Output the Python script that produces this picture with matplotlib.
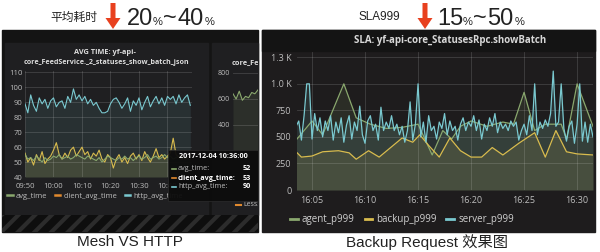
import matplotlib
matplotlib.use('Agg')
import matplotlib.pyplot as plt
import matplotlib.dates as mdates
from matplotlib.patches import Rectangle, FancyArrow
from matplotlib.lines import Line2D
from matplotlib.ticker import FuncFormatter
import pandas as pd
import math

# ---- data: Mesh VS HTTP (per minute from 09:50) ----
http_avg_time = [89, 83, 95, 88, 84, 93, 89, 92, 86, 91,
                 93, 87, 90, 91, 86, 94, 90, 99, 92, 95,
                 91, 94, 89, 92, 88, 90, 86, 83, 83, 84,
                 89, 92, 93, 90, 86, 89, 93, 84, 91, 88,
                 93, 85, 90, 94, 87, 91, 94, 89, 93, 88,
                 94, 92, 94, 89, 95, 90, 93, 95, 88]
avg_time = [55, 52, 53, 51, 54, 52, 50, 53, 51, 52,
            54, 53, 55, 52, 53, 54, 52, 53, 55, 54,
            53, 52, 54, 53, 52, 51, 53, 50, 52, 54,
            53, 52, 51, 53, 52, 54, 52, 53, 51, 53,
            54, 52, 53, 55, 52, 53, 54, 52, 53, 55,
            53, 54, 52, 53, 54, 52, 53, 54, 53]
client_avg_time = [56, 50, 53, 48, 55, 51, 57, 49, 52, 54,
                   58, 63, 55, 52, 56, 53, 58, 60, 54, 57,
                   60, 55, 57, 52, 56, 54, 58, 52, 50, 55,
                   53, 46, 52, 55, 50, 53, 49, 54, 56, 52,
                   55, 51, 57, 53, 50, 54, 59, 53, 55, 52,
                   54, 56, 66, 55, 53, 55, 52, 54, 53]
less50 = [640, 600, 660, 590, 620, 610, 650, 640, 670]

# ---- data: Backup Request (server every 15 s from 16:03:30) ----
server_p999 = [600, 650, 470, 700, 1000, 1000, 480, 720,
               560, 680, 500, 650, 560, 700, 470, 640,
               540, 680, 450, 610, 700, 480, 640, 560,
               790, 520, 440, 650, 700, 560, 620, 470,
               780, 560, 640, 580, 700, 560, 620, 520,
               600, 450, 560, 830, 470, 620, 1000, 500,
               640, 450, 700, 560, 600, 480, 640, 580,
               720, 520, 650, 560, 600, 470, 620, 680,
               560, 640, 600, 700, 560, 660, 480, 620,
               560, 680, 600, 720, 540, 640, 580, 620,
               560, 650, 600, 640, 470, 560, 620, 520,
               700, 560, 1000, 520, 640, 580, 660, 600,
               720, 1120, 600, 640, 1000, 580, 460, 600,
               650, 440, 620, 1000, 460, 640, 450, 620,
               500]
agent_time = ['16:03:30', '16:05:00', '16:06:00', '16:08:00', '16:09:10', '16:10:30',
              '16:12:00', '16:13:30', '16:15:00', '16:16:20', '16:17:20', '16:18:10',
              '16:19:00', '16:20:00', '16:21:30', '16:23:00', '16:24:00', '16:25:00',
              '16:26:00', '16:27:00', '16:28:30', '16:29:00', '16:30:00', '16:31:30']
agent_p999 = [470, 650, 520, 1000, 680, 620, 580, 590, 620, 330, 560, 480,
              600, 650, 600, 640, 620, 920, 560, 620, 620, 480, 1000, 600]
backup_time = ['16:03:30', '16:04:00', '16:05:00', '16:06:00', '16:07:30', '16:08:30',
               '16:09:10', '16:10:20', '16:11:20', '16:13:30', '16:14:30', '16:15:10',
               '16:16:00', '16:17:00', '16:18:00', '16:19:00', '16:20:00', '16:21:00',
               '16:22:00', '16:23:00', '16:24:30', '16:26:00', '16:27:00', '16:28:00',
               '16:29:00', '16:30:00', '16:31:30']
backup_p999 = [360, 310, 320, 360, 370, 350, 290, 370, 310, 490, 450, 520, 420, 310,
               490, 370, 310, 310, 400, 330, 440, 540, 310, 560, 360, 340, 330]

GREEN, YELLOW, TEAL = '#8aa86e', '#d9bc4e', '#7ac9d0'

plt.rcParams['font.family'] = ['Open Sans', 'DejaVu Sans']
plt.rcParams['hatch.linewidth'] = 3

W, H = 600, 252
fig = plt.figure(figsize=(6, 2.52), dpi=100)


def px_axes(x0, y0, x1, y1, z=1):
    return fig.add_axes([x0 / W, 1 - y1 / H, (x1 - x0) / W, (y1 - y0) / H], zorder=z)


def pixel_canvas(z):
    a = px_axes(0, 0, W, H, z)
    a.set_xlim(0, W)
    a.set_ylim(H, 0)
    a.axis('off')
    return a


def dark_style(ax, size):
    ax.set_facecolor('none')
    for s in ax.spines.values():
        s.set_visible(False)
    ax.tick_params(colors='#bdbdbd', labelsize=size, length=0, pad=2)
    ax.grid(True, color='#ffffff', alpha=0.16, lw=0.6)


canvas = pixel_canvas(0)
# screenshot backgrounds
canvas.add_patch(Rectangle((2, 30), 256, 202, color='#141414'))
canvas.add_patch(Rectangle((5, 43), 203, 172, color='#1f1f21'))
canvas.add_patch(Rectangle((212, 43), 46, 172, color='#1f1f21'))
canvas.add_patch(Rectangle((2, 215), 256, 17, facecolor='#0e0e0e', edgecolor='#2c2c2c',
                           hatch='//', lw=0))
canvas.add_patch(Rectangle((262, 30), 333, 202, color='#1e1c1d'))
canvas.add_patch(Rectangle((262, 30), 333, 21, color='#141414'))

# panel titles
canvas.text(105, 53, 'AVG TIME: yf-api-', color='#dcdcdc', fontsize=5.3,
            fontweight='bold', ha='center', va='center')
canvas.text(106, 63, 'core_FeedService._2_statuses_show_batch_json', color='#dcdcdc',
            fontsize=5.1, fontweight='bold', ha='center', va='center')
canvas.text(450, 41, 'SLA: yf-api-core_StatusesRpc.showBatch', color='#d8d8d8',
            fontsize=7, fontweight='bold', ha='center', va='center')

# captions
canvas.text(130, 242, 'Mesh VS HTTP', family=['Liberation Sans'], fontsize=11,
            color='#222222', ha='center', va='center')
canvas.text(427, 242, 'Backup Request 效果图', family=['Liberation Sans', 'Noto Sans CJK SC'],
            fontsize=11, color='#222222', ha='center', va='center')

# top notes with red arrows
canvas.text(74, 17, '平均耗时', family=['Noto Sans CJK SC'], fontsize=8.5,
            color='#222222', ha='center', va='center')
canvas.text(379, 17, 'SLA999', family=['Liberation Sans'], fontsize=8.5,
            color='#222222', ha='center', va='center')
for ax_x in (113, 425):
    canvas.add_patch(FancyArrow(ax_x, 3, 0, 26, width=5, head_width=15, head_length=11,
                                length_includes_head=True, color='#e8401e', lw=0))
for pieces in ([('20', 127, 17), ('%', 153, 8), ('~', 163, 17), ('40', 177, 17), ('%', 205, 8)],
               [('15', 437, 17), ('%', 463, 8), ('~', 473, 17), ('50', 487, 17), ('%', 515, 8)]):
    for s, x, size in pieces:
        canvas.text(x, 25, s, family=['Liberation Sans'], fontsize=size,
                    color='#222222', ha='left', va='baseline')

# ---- left chart ----
tL = pd.date_range('2017-12-04 09:50', periods=len(http_avg_time), freq='min')
axL = px_axes(25, 71, 192, 177, 2)
dark_style(axL, 5.5)
axL.tick_params(axis='x', pad=4)
for y, c in ((http_avg_time, TEAL), (client_avg_time, YELLOW), (avg_time, GREEN)):
    axL.fill_between(tL, 40, y, color=c, alpha=0.10, lw=0)
    axL.plot(tL, y, color=c, lw=0.8)
axL.set_ylim(40, 111)
axL.set_yticks(range(40, 111, 10))
axL.set_xlim(tL[0], tL[0] + pd.Timedelta(minutes=58.6))
axL.xaxis.set_major_locator(mdates.MinuteLocator(byminute=range(0, 60, 10)))
axL.xaxis.set_major_formatter(mdates.DateFormatter('%H:%M'))
hL = [Line2D([], [], color=c, lw=1.8) for c in (GREEN, '#e0892e', TEAL)]
axL.legend(hL, ['avg_time', 'client_avg_time', 'http_avg_time'], loc='center',
           bbox_to_anchor=(0.42, -0.18), ncol=3, frameon=False, fontsize=5.5,
           handlelength=0.7, handletextpad=0.4, columnspacing=1.0, labelcolor='#bdbdbd')

# partially visible second panel
ax2 = px_axes(233, 70, 258, 177, 2)
dark_style(ax2, 5)
ax2.fill_between(range(len(less50)), 0, less50, color=GREEN, alpha=0.12, lw=0)
ax2.plot(range(len(less50)), less50, color=GREEN, lw=0.8)
ax2.set_ylim(0, 823)
ax2.set_yticks([400, 600, 800])
ax2.set_xlim(0, len(less50) - 1)
ax2.set_xticks([])
deco2 = px_axes(212, 43, 258, 215, 3)
deco2.set_xlim(212, 258)
deco2.set_ylim(215, 43)
deco2.axis('off')
deco2.text(232, 63, 'core_Fe', color='#dcdcdc',
           fontsize=5.3, fontweight='bold', ha='left', va='center', clip_on=True)
deco2.plot([236, 241], [205, 205], color='#e0892e', lw=1.5)
deco2.text(243, 205, 'Less50', color='#bdbdbd', fontsize=5, va='center', clip_on=True)

# tooltip
top = pixel_canvas(5)
top.add_patch(Rectangle((168, 150), 90, 51, facecolor='#0c0c0c', edgecolor='#2a2a2a',
                        alpha=0.95, lw=0.6))
top.text(213, 157, '2017-12-04 10:36:00', color='white', fontsize=5.2, fontweight='bold',
         ha='center', va='center')
for y, name, val, c, bold in ((169, 'avg_time:', 52, GREEN, False),
                              (178, 'client_avg_time:', 53, '#e0892e', True),
                              (187, 'http_avg_time:', 90, TEAL, False)):
    top.plot([172, 176], [y, y], color=c, lw=1.2)
    top.text(178, y, name, color='white' if bold else '#bdbdbd', fontsize=5.2,
             fontweight='bold' if bold else 'normal', va='center')
    top.text(251, y, str(val), color='white', fontsize=5.2, fontweight='bold',
             ha='right', va='center')

# ---- right chart ----
tS = pd.date_range('2017-12-04 16:03:30', periods=len(server_p999), freq='15s')
tA = pd.to_datetime(['2017-12-04 ' + t for t in agent_time])
tB = pd.to_datetime(['2017-12-04 ' + t for t in backup_time])
axR = px_axes(297, 52, 593, 190, 2)
dark_style(axR, 6.5)
axR.tick_params(pad=4)
for t, y, c in ((tA, agent_p999, GREEN), (tB, backup_p999, YELLOW), (tS, server_p999, TEAL)):
    axR.fill_between(t, 0, y, color=c, alpha=0.12, lw=0)
    axR.plot(t, y, color=c, lw=0.9)
axR.set_ylim(0, 1300)
axR.set_yticks(range(0, 1251, 250))
axR.yaxis.set_major_formatter(FuncFormatter(
    lambda v, p: f'{math.floor(v / 100 + 0.5) / 10:.1f} K' if v >= 1000 else f'{v:.0f}'))
axR.set_xlim(pd.Timestamp('2017-12-04 16:03:35'), pd.Timestamp('2017-12-04 16:31:30'))
axR.xaxis.set_major_locator(mdates.MinuteLocator(byminute=range(0, 60, 5)))
axR.xaxis.set_major_formatter(mdates.DateFormatter('%H:%M'))
hR = [Line2D([], [], color=c, lw=2) for c in (GREEN, YELLOW, TEAL)]
axR.legend(hR, ['agent_p999', 'backup_p999', 'server_p999'], loc='center',
           bbox_to_anchor=(0.355, -0.217), ncol=3, frameon=False, fontsize=7,
           handlelength=0.8, handletextpad=0.4, columnspacing=1.0, labelcolor='#d0d0d0')

fig.savefig('out.png', dpi=100, facecolor='white')
